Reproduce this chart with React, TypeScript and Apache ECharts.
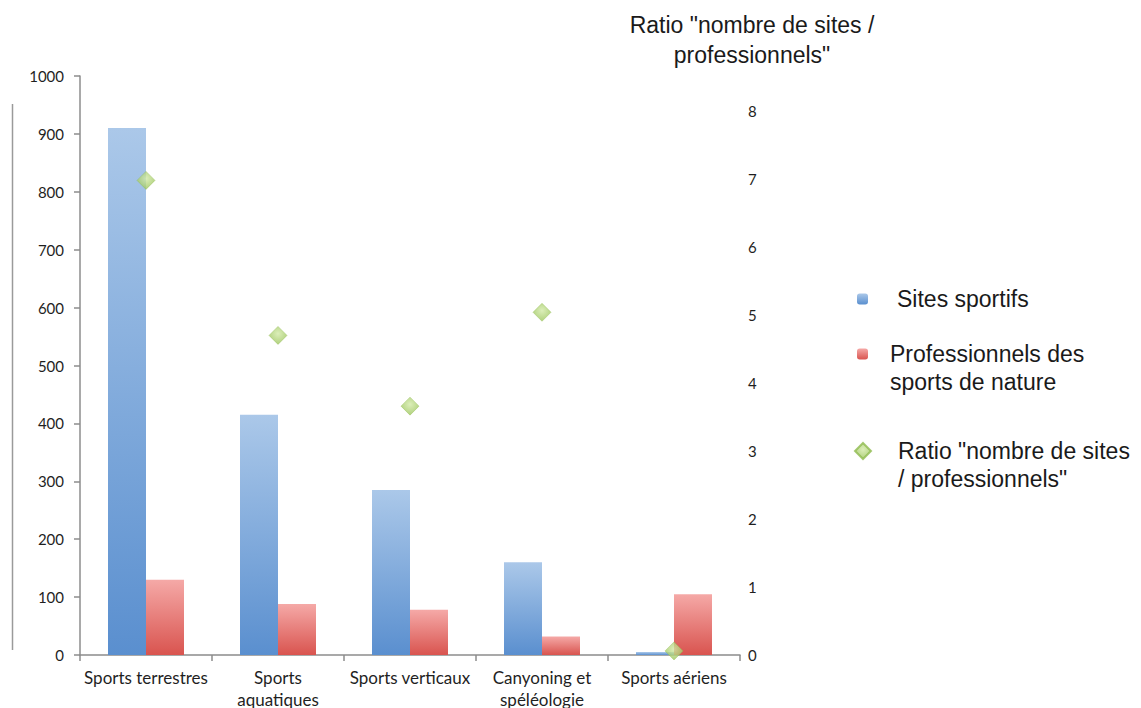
import React, { useEffect, useRef } from "react";
import * as echarts from "echarts";

const categories = [
  "Sports terrestres",
  "Sports\naquatiques",
  "Sports verticaux",
  "Canyoning et\nspéléologie",
  "Sports aériens",
];
const sitesSportifs = [910, 415, 285, 160, 5];
const professionnels = [130, 88, 78, 32, 105];
const ratio = [6.98, 4.7, 3.66, 5.04, 0.06];
const leftTicks = { min: 0, max: 1000, interval: 100 };
const rightTicks = { min: 0, max: 8.515, interval: 1 };

const SITES = "Sites sportifs";
const PROS = "Professionnels des\nsports de nature";
const RATIO = 'Ratio "nombre de sites\n/ professionnels"';

export default function App() {
  const ref = useRef<HTMLDivElement>(null);
  useEffect(() => {
    if (!ref.current) return;
    const chart = echarts.init(ref.current, null, { renderer: "svg" });
    const blue = new echarts.graphic.LinearGradient(0, 0, 0, 1, [
      { offset: 0, color: "#abc8e9" },
      { offset: 1, color: "#5a8fcf" },
    ]);
    const red = new echarts.graphic.LinearGradient(0, 0, 0, 1, [
      { offset: 0, color: "#f5a9a7" },
      { offset: 1, color: "#d9544f" },
    ]);
    const green = new echarts.graphic.RadialGradient(0.5, 0.4, 0.6, [
      { offset: 0, color: "#d3eaa8" },
      { offset: 1, color: "#9cc55c" },
    ]);
    const legendText = {
      fontFamily: "Liberation Sans, Arial, sans-serif",
      fontSize: 23,
      color: "#1a1a1a",
      lineHeight: 28,
    };
    chart.setOption({
      animation: false,
      backgroundColor: "#ffffff",
      grid: { left: 80, right: 401, top: 76, bottom: 53, outerBoundsMode: "none", containLabel: false },
      legend: [
        {
          data: [SITES],
          left: 857,
          top: 285,
          padding: 0,
          itemWidth: 11,
          itemHeight: 11,
          textStyle: { ...legendText, padding: [0, 0, 0, 24] },
        },
        {
          data: [PROS],
          left: 857,
          top: 312,
          padding: 0,
          itemWidth: 11,
          itemHeight: 11,
          formatter: (name: string) => "\n" + name,
          textStyle: { ...legendText, padding: [0, 0, 0, 17] },
        },
        {
          data: [{ name: RATIO, icon: "diamond" }],
          left: 854,
          top: 409,
          padding: 0,
          itemWidth: 16,
          itemHeight: 16,
          formatter: (name: string) => "\n" + name,
          textStyle: { ...legendText, padding: [0, 0, 0, 22] },
        },
      ],
      xAxis: {
        type: "category",
        data: categories,
        axisLine: { lineStyle: { color: "#8c8c8c", width: 1.5 } },
        axisTick: { show: true, length: 6, lineStyle: { color: "#8c8c8c", width: 1.5 } },
        axisLabel: {
          fontFamily: "Lato, sans-serif",
          fontSize: 17,
          color: "#1f1f1f",
          margin: 11,
          lineHeight: 22,
          interval: 0,
        },
      },
      yAxis: [
        {
          type: "value",
          ...leftTicks,
          position: "left",
          axisLine: { show: true, lineStyle: { color: "#8c8c8c", width: 1.5 } },
          axisTick: { show: true, length: 6, lineStyle: { color: "#8c8c8c", width: 1.5 } },
          splitLine: { show: false },
          axisLabel: {
            fontFamily: "Lato, sans-serif",
            fontSize: 15,
            color: "#1f1f1f",
            margin: 16,
            formatter: (v: number) => String(v),
          },
        },
        {
          type: "value",
          ...rightTicks,
          position: "right",
          axisLine: { show: false },
          axisTick: { show: false },
          splitLine: { show: false },
          axisLabel: {
            fontFamily: "Lato, sans-serif",
            fontSize: 15,
            color: "#1f1f1f",
            margin: 8,
            formatter: (v: number) => (v > 8 ? "" : String(v)),
          },
          name: 'Ratio "nombre de sites /\nprofessionnels"',
          nameLocation: "end",
          nameGap: 6,
          nameTextStyle: {
            fontFamily: "Liberation Sans, Arial, sans-serif",
            fontSize: 23,
            lineHeight: 30,
            color: "#1a1a1a",
            align: "center",
            padding: [0, 0, 0, 24],
          },
        },
      ],
      series: [
        {
          name: SITES,
          type: "bar",
          data: sitesSportifs,
          barWidth: 38,
          barGap: "0%",
          itemStyle: { color: blue },
        },
        {
          name: PROS,
          type: "bar",
          data: professionnels,
          barWidth: 38,
          barGap: "0%",
          itemStyle: { color: red },
        },
        {
          name: RATIO,
          type: "scatter",
          yAxisIndex: 1,
          data: ratio,
          symbol: "diamond",
          symbolSize: 18,
          itemStyle: { color: green, borderColor: "#90bb50", borderWidth: 0.5 },
          z: 5,
        },
      ],
      graphic: [
        {
          type: "line",
          shape: { x1: 12.5, y1: 104, x2: 12.5, y2: 650 },
          style: { stroke: "#9a9a9a", lineWidth: 1.5 },
        },
      ],
    });
    return () => chart.dispose();
  }, []);
  return (
    <div
      ref={ref}
      style={{ position: "fixed", left: 0, top: 0, width: 1141, height: 708 }}
    />
  );
}
